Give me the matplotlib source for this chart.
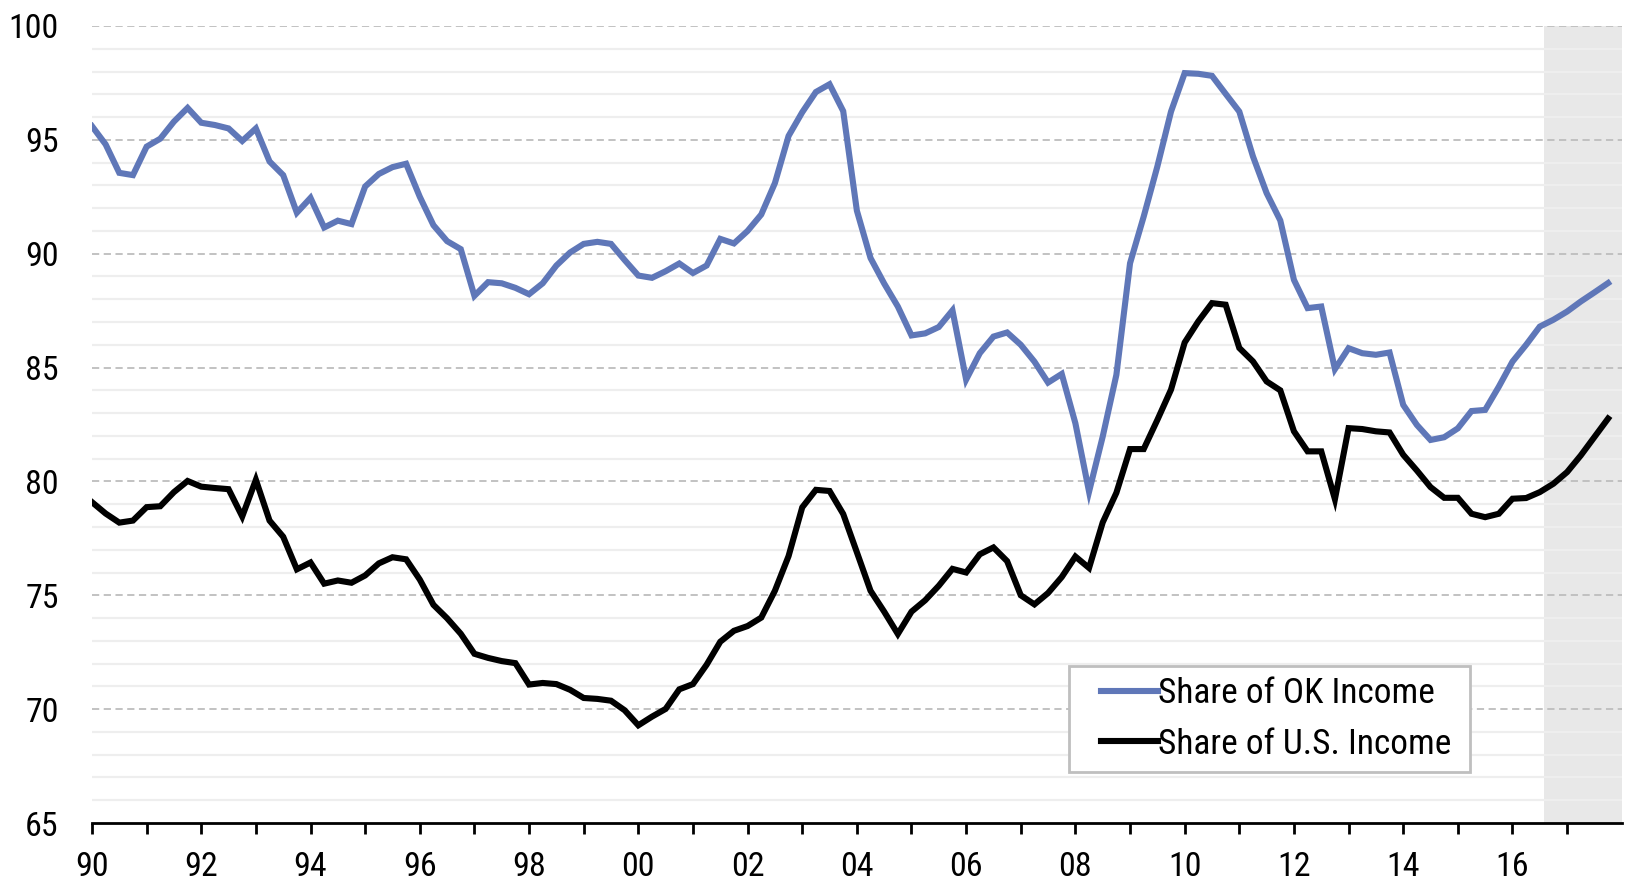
import numpy as np
import matplotlib
matplotlib.use("Agg")
import matplotlib.pyplot as plt
from matplotlib.patches import Rectangle

# quarterly data, 1990Q1 - 2017Q4
quarters = np.arange(1990, 2018, 0.25)

share_ok = [
    95.6, 94.8, 93.55, 93.45,
    94.7, 95.05, 95.8, 96.4,
    95.75, 95.65, 95.5, 94.95,
    95.5, 94.05, 93.45, 91.8,
    92.45, 91.15, 91.45, 91.3,
    92.95, 93.5, 93.8, 93.95,
    92.5, 91.25, 90.55, 90.2,
    88.15, 88.75, 88.7, 88.5,
    88.22, 88.7, 89.48, 90.05,
    90.43, 90.52, 90.43, 89.72,
    89.04, 88.94, 89.23, 89.57,
    89.15, 89.48, 90.65, 90.45,
    91.0, 91.72, 93.1, 95.17,
    96.21, 97.1, 97.44, 96.26,
    91.89, 89.81, 88.69, 87.68,
    86.41, 86.5, 86.78, 87.51,
    84.47, 85.63, 86.36, 86.54,
    86.0, 85.26, 84.34, 84.72,
    82.55, 79.55, 81.97, 84.68,
    89.58, 91.63, 93.83, 96.24,
    97.93, 97.9, 97.81, 97.02,
    96.24, 94.27, 92.66, 91.46,
    88.85, 87.61, 87.68, 84.93,
    85.85, 85.63, 85.56, 85.66,
    83.36, 82.48, 81.82, 81.94,
    82.33, 83.09, 83.14, 84.16,
    85.26, 86.0, 86.8, 87.1,
    87.46, 87.9, 88.3, 88.71,
]

share_us = [
    79.09, 78.59, 78.19, 78.28,
    78.87, 78.91, 79.53, 80.02,
    79.77, 79.71, 79.66, 78.46,
    80.07, 78.28, 77.57, 76.14,
    76.44, 75.51, 75.65, 75.55,
    75.87, 76.4, 76.67, 76.58,
    75.69, 74.58, 73.99, 73.31,
    72.43, 72.25, 72.11, 72.02,
    71.08, 71.15, 71.1, 70.85,
    70.49, 70.45, 70.37, 69.95,
    69.29, 69.67, 70.01, 70.87,
    71.1, 71.95, 72.96, 73.44,
    73.65, 74.02, 75.2, 76.72,
    78.86, 79.63, 79.58, 78.57,
    76.89, 75.2, 74.28, 73.3,
    74.28, 74.78, 75.42, 76.16,
    76.0, 76.8, 77.1, 76.5,
    75.0, 74.6, 75.1, 75.8,
    76.7, 76.2, 78.2, 79.5,
    81.42, 81.42, 82.7, 84.03,
    86.1, 87.03, 87.83, 87.76,
    85.86, 85.27, 84.39, 84.0,
    82.2, 81.32, 81.32, 79.22,
    82.34, 82.3, 82.2, 82.15,
    81.17, 80.48, 79.75, 79.28,
    79.28, 78.58, 78.43, 78.58,
    79.24, 79.27, 79.53, 79.9,
    80.41, 81.14, 81.95, 82.76,
]

tick_years = list(range(1990, 2017, 2))
tick_labels = ["90", "92", "94", "96", "98", "00", "02", "04", "06", "08",
               "10", "12", "14", "16"]
forecast_start = 2016.58

plt.rcParams['font.family'] = ['Roboto Condensed', 'Liberation Sans', 'DejaVu Sans']

fig = plt.figure(figsize=(16.25, 8.86), dpi=100)
ax = fig.add_axes([0.0566, 0.0711, 0.9414, 0.8996])

# zona sombreada (previsión)
ax.axvspan(forecast_start, 2018, color='#e8e8e8', lw=0, zorder=0)

# rejilla: continua clara cada unidad, discontinua cada 5
for v in range(66, 100):
    if v % 5:
        ax.axhline(v, color='#eeeeee', lw=1.6, zorder=1)
for v in range(70, 101, 5):
    ax.axhline(v, color='#bdbdbd', lw=1.3, ls=(0, (4, 2.5)), zorder=1)

ax.plot(quarters, share_ok, color='#5f77b8', lw=4.4, label='Share of OK Income',
        zorder=3, solid_joinstyle='miter')
ax.plot(quarters, share_us, color='black', lw=4.4, label='Share of U.S. Income',
        zorder=3, solid_joinstyle='miter')

ax.set_xlim(1990, 2018)
ax.set_ylim(65, 100)

ax.set_yticks(range(65, 101, 5))
ax.set_xticks(tick_years)
ax.set_xticklabels(tick_labels)
ax.set_xticks(range(1991, 2019, 2), minor=True)

for s in ['top', 'right', 'left']:
    ax.spines[s].set_visible(False)
ax.spines['bottom'].set_linewidth(2)
ax.spines['bottom'].set_zorder(4)

ax.tick_params(axis='y', length=0, pad=24, labelsize=24.5)
ax.tick_params(axis='x', which='both', direction='out', length=8, width=2,
               pad=12, labelsize=24.5)

# marco de la leyenda dibujado aparte
ax.add_patch(Rectangle((0.6386, 0.064), 0.2621, 0.133, transform=ax.transAxes,
                       facecolor='white', edgecolor='#bfbfbf', lw=2, zorder=5))
leg = ax.legend(loc='center left', bbox_to_anchor=(0.6595, 0.1305), fontsize=25.5,
                frameon=False, handlelength=1.6, handletextpad=0.0,
                borderpad=0.0, borderaxespad=0.0, labelspacing=0.5)
leg.set_zorder(6)

fig.savefig('out.png', dpi=100)
